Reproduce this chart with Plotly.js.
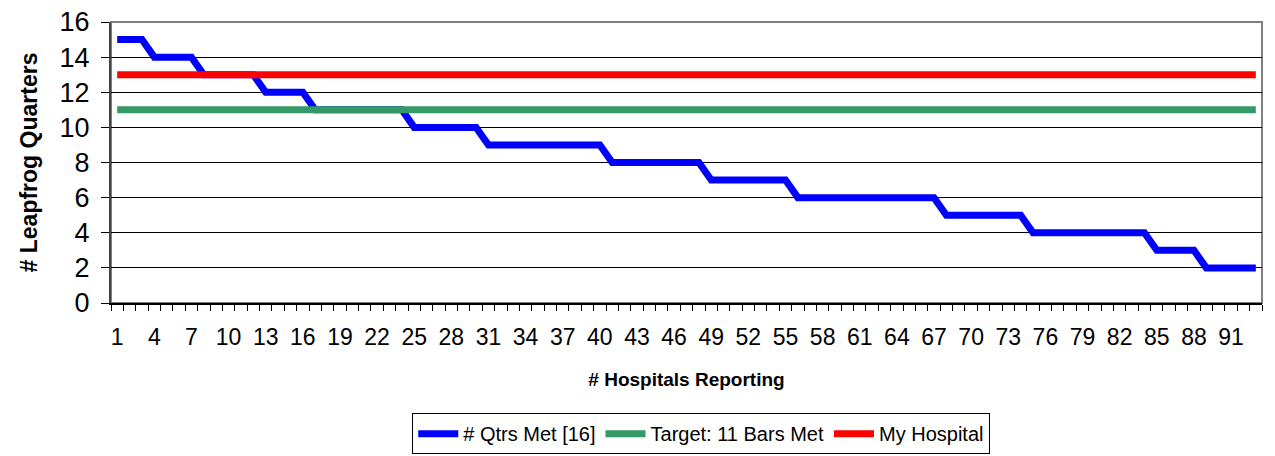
<!DOCTYPE html>
<html>
<head>
<meta charset="utf-8">
<script src="https://cdn.plot.ly/plotly-3.0.1.min.js"></script>
<style>html,body{margin:0;padding:0;background:#fff;}#chart{width:1275px;height:456px;}</style>
</head>
<body>
<div id="chart"></div>
<script>
// Hospital index (categories 1..93)
const hospitals = [
  1,2,3,4,5,6,7,8,9,10,11,12,13,14,15,16,17,18,19,20,21,22,23,24,25,26,27,28,29,30,
  31,32,33,34,35,36,37,38,39,40,41,42,43,44,45,46,47,48,49,50,51,52,53,54,55,56,57,58,59,60,
  61,62,63,64,65,66,67,68,69,70,71,72,73,74,75,76,77,78,79,80,81,82,83,84,85,86,87,88,89,90,
  91,92,93
];
// # Qtrs Met [16]
const qtrsMet = [
  15,15,15,14,14,14,14,13,13,13,13,13,12,12,12,12,11,11,11,11,11,11,11,11,10,10,10,10,10,10,
  9,9,9,9,9,9,9,9,9,9,8,8,8,8,8,8,8,8,7,7,7,7,7,7,7,6,6,6,6,6,
  6,6,6,6,6,6,6,5,5,5,5,5,5,5,4,4,4,4,4,4,4,4,4,4,3,3,3,3,2,2,
  2,2,2
];
// Target: 11 Bars Met
const target = [
  11,11,11,11,11,11,11,11,11,11,11,11,11,11,11,11,11,11,11,11,11,11,11,11,11,11,11,11,11,11,
  11,11,11,11,11,11,11,11,11,11,11,11,11,11,11,11,11,11,11,11,11,11,11,11,11,11,11,11,11,11,
  11,11,11,11,11,11,11,11,11,11,11,11,11,11,11,11,11,11,11,11,11,11,11,11,11,11,11,11,11,11,
  11,11,11
];
// My Hospital
const myHospital = [
  13,13,13,13,13,13,13,13,13,13,13,13,13,13,13,13,13,13,13,13,13,13,13,13,13,13,13,13,13,13,
  13,13,13,13,13,13,13,13,13,13,13,13,13,13,13,13,13,13,13,13,13,13,13,13,13,13,13,13,13,13,
  13,13,13,13,13,13,13,13,13,13,13,13,13,13,13,13,13,13,13,13,13,13,13,13,13,13,13,13,13,13,
  13,13,13
];
const xTickVals = [1,4,7,10,13,16,19,22,25,28,31,34,37,40,43,46,49,52,55,58,61,64,67,70,73,76,79,82,85,88,91];
const yTickVals = [0,2,4,6,8,10,12,14,16];

const FONT = '"Liberation Sans Narrow", "Arial Narrow", "Liberation Sans", Arial, sans-serif';

const traces = [
  {x: hospitals, y: qtrsMet, name: '# Qtrs Met [16]', type: 'scatter', mode: 'lines',
   line: {color: '#0000FF', width: 7}},
  {x: hospitals, y: target, name: 'Target: 11 Bars Met', type: 'scatter', mode: 'lines',
   line: {color: '#339966', width: 7}},
  {x: hospitals, y: myHospital, name: 'My Hospital', type: 'scatter', mode: 'lines',
   line: {color: '#FF0000', width: 7}}
];

const layout = {
  width: 1275, height: 456,
  margin: {l: 111, r: 13, t: 22, b: 153},
  paper_bgcolor: '#fff', plot_bgcolor: '#fff',
  font: {family: FONT, color: '#000'},
  showlegend: true,
  legend: {
    orientation: 'h', xref: 'container', yref: 'container',
    x: 0.55, xanchor: 'center', y: 0.094, yanchor: 'top',
    bordercolor: '#000', borderwidth: 1,
    font: {family: FONT, size: 20, color: '#000'},
    traceorder: 'normal', itemwidth: 40
  },
  xaxis: {
    range: [0.5, 93.5], tickmode: 'array', tickvals: xTickVals,
    ticks: '', showgrid: false, zeroline: false,
    showline: true, linecolor: '#000', linewidth: 2,
    tickfont: {family: FONT, size: 23, color: '#000'},
    ticklabelstandoff: 12,
    minor: {ticks: 'outside', tick0: 0.5, dtick: 1, ticklen: 6, tickcolor: '#000', tickwidth: 1, showgrid: false},
    title: {text: '# Hospitals Reporting', font: {family: FONT, size: 19, color: '#000', weight: 'bold'}, standoff: 24}
  },
  yaxis: {
    range: [0, 16], tickmode: 'array', tickvals: yTickVals,
    ticks: 'outside', ticklen: 8, tickcolor: '#000', tickwidth: 1,
    showgrid: true, gridcolor: '#000', gridwidth: 1, zeroline: false,
    showline: true, linecolor: '#444', linewidth: 2,
    tickfont: {family: FONT, size: 27, color: '#000'},
    ticklabelstandoff: 6,
    title: {text: '# Leapfrog Quarters', font: {family: FONT, size: 23, color: '#000', weight: 'bold'}, standoff: 16}
  },
  shapes: [
    {type: 'rect', xref: 'paper', yref: 'paper', x0: 0, x1: 1, y0: 0, y1: 1,
     line: {color: '#808080', width: 2}, layer: 'below'}
  ]
};

Plotly.newPlot('chart', traces, layout, {displayModeBar: false, staticPlot: true});
</script>
</body>
</html>
